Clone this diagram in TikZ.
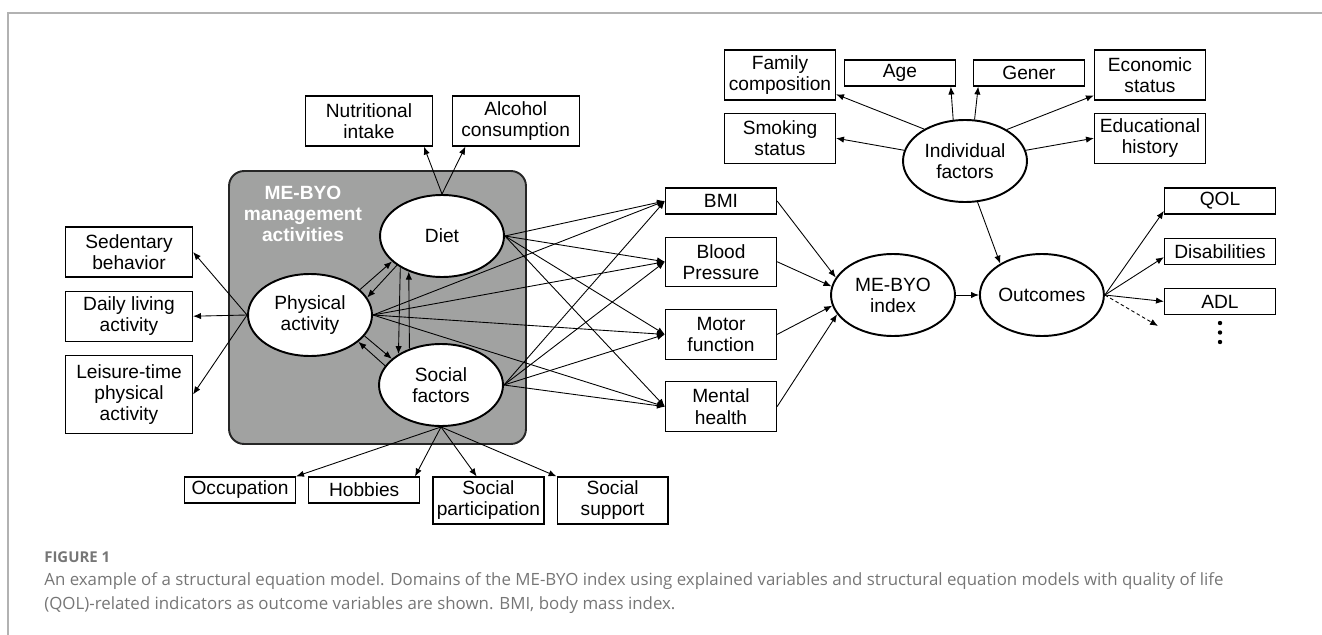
\documentclass[tikz,border=0pt]{standalone}
\usepackage{fontspec}
\setmainfont{Liberation Sans}
\newfontfamily\capfont{Open Sans}
\usepackage{tikz}
\usetikzlibrary{arrows.meta,shapes.geometric,positioning}
\definecolor{groupgray}{RGB}{161,162,161}
\definecolor{framegray}{RGB}{178,178,178}
\definecolor{capgray}{RGB}{118,118,118}
\tikzstyle{var} = [rectangle, draw, line width=0.7pt, minimum width=2.22cm, minimum height=0.52cm, inner xsep=1.5pt, inner ysep=1pt, align=center, font=\fontsize{10.9}{12}\selectfont]
\tikzstyle{widevar} = [var, minimum width=2.54cm]
\tikzstyle{latent} = [ellipse, draw, line width=1.1pt, fill=white, minimum width=2.48cm, minimum height=1.64cm, inner sep=0pt, align=center, font=\fontsize{10.9}{12}\selectfont]
\tikzstyle{group} = [rectangle, rounded corners=0.3cm, draw=black!85, line width=1.1pt, fill=groupgray, minimum width=5.94cm, minimum height=5.46cm]
\tikzstyle{arrow} = [line width=0.5pt, -{Latex[length=4.5pt,width=3.6pt]}]

\begin{document}
\begin{tikzpicture}[x=0.02cm,y=-0.02cm]
\useasboundingbox (0,0) rectangle (1322,635);
\draw[framegray, line width=0.85pt] (8,635) -- (8,13) -- (1322,13);

\node[group] (mgmt) at (377.5,307.5) {};
\node[align=center, text=white, font=\fontsize{10.9}{12}\selectfont\bfseries] (mgmtlabel) at (303,214) {ME-BYO\\management\\activities};
\node[latent] (diet) at (442,236) {Diet};
\node[latent] (phy) at (310,315) {Physical\\activity};
\node[latent] (soc) at (441,385) {Social\\factors};

\node[widevar, minimum height=1cm] (sed) at (129,252) {Sedentary\\behavior};
\node[widevar, minimum height=1cm, below=0.26cm of sed] (daily) {Daily living\\activity};
\node[widevar, minimum height=1.56cm, below=0.26cm of daily] (leis) {Leisure-time\\physical\\activity};

\node[widevar, minimum height=1cm] (nutr) at (369,121) {Nutritional\\intake};
\node[widevar, minimum height=1cm, right=0.37cm of nutr] (alc) {Alcohol\\consumption};

\node[var] (occ) at (240,490) {Occupation};
\node[var, right=0.24cm of occ] (hob) {Hobbies};
\node[var, minimum height=0.94cm, right=0.24cm of hob.north east, anchor=north west] (spart) {Social\\participation};
\node[var, minimum height=0.94cm, right=0.24cm of spart] (ssup) {Social\\support};

\node[var] (bmi) at (721,201) {BMI};
\node[var, minimum height=0.98cm, below=0.44cm of bmi] (bp) {Blood\\Pressure};
\node[var, minimum height=1cm, below=0.44cm of bp] (motor) {Motor\\function};
\node[var, minimum height=1cm, below=0.42cm of motor] (mental) {Mental\\health};

\node[latent] (idx) at (893,295) {ME-BYO\\index};
\node[latent, right=0.46cm of idx] (out) {Outcomes};
\node[latent] (indiv) at (965,161) {Individual\\factors};

\node[var, minimum height=1cm] (fam) at (780,75) {Family\\composition};
\node[var, minimum height=1cm, below=0.24cm of fam] (smok) {Smoking\\status};
\node[var] (age) at (900,73) {Age};
\node[var] (gen) at (1029,73) {Gener};
\node[var, minimum height=1cm] (econ) at (1150,75) {Economic\\status};
\node[var, minimum height=1cm, below=0.24cm of econ] (edu) {Educational\\history};

\node[var] (qol) at (1220,201) {QOL};
\node[var, below=0.46cm of qol] (dis) {Disabilities};
\node[var, below=0.46cm of dis] (adl) {ADL};
\coordinate (etc) at (1158,326);
\coordinate (more) at (1220,332.5);
\fill (more) ++(0,-9.5) circle (2.2) (more) circle (2.2) (more) ++(0,9.5) circle (2.2);

\draw[arrow] (phy.west) -- (sed.east);
\draw[arrow] (phy.west) -- (daily.east);
\draw[arrow] (phy.west) -- (leis.east);
\draw[arrow] (diet.north) -- (nutr.-25);
\draw[arrow] (diet.north) -- (alc.207);
\draw[arrow] (soc.south) -- (occ.north east);
\draw[arrow] (soc.south) -- (hob.15);
\draw[arrow] (soc.south) -- (spart.116);
\draw[arrow] (soc.south) -- (ssup.north west);

\draw[arrow] (phy.27) -- (diet.207);
\draw[arrow] (diet.213) -- (phy.17);
\draw[arrow] (diet.217) -- (soc.144);
\draw[arrow] (soc.131) -- (diet.227);
\draw[arrow] (phy.-21) -- (soc.152);
\draw[arrow] (soc.161) -- (phy.-29);

\draw[arrow] (diet.east) -- (bmi.west);
\draw[arrow] (diet.east) -- (bp.west);
\draw[arrow] (diet.east) -- (motor.west);
\draw[arrow] (diet.east) -- (mental.west);
\draw[arrow] (phy.east) -- (bmi.west);
\draw[arrow] (phy.east) -- (bp.west);
\draw[arrow] (phy.east) -- (motor.west);
\draw[arrow] (phy.east) -- (mental.west);
\draw[arrow] (soc.east) -- (bmi.west);
\draw[arrow] (soc.east) -- (bp.west);
\draw[arrow] (soc.east) -- (motor.west);
\draw[arrow] (soc.east) -- (mental.west);

\draw[arrow] (bmi.east) -- (idx.163);
\draw[arrow] (bp.east) -- (idx.172);
\draw[arrow] (motor.east) -- (idx.190);
\draw[arrow] (mental.east) -- (idx.199);
\draw[arrow] (idx) -- (out);

\draw[arrow] (indiv.142) -- (fam.-19);
\draw[arrow] (indiv.106) -- (age.-15);
\draw[arrow] (indiv.77) -- (gen.195);
\draw[arrow] (indiv.37) -- (econ.200);
\draw[arrow] (indiv.170) -- (smok.east);
\draw[arrow] (indiv.10) -- (edu.west);
\draw[arrow] (indiv.-73) -- (out.143);

\draw[arrow] (out.east) -- (qol.190);
\draw[arrow] (out.east) -- (dis.186);
\draw[arrow] (out.east) -- (adl.west);
\draw[arrow, dash pattern=on 2pt off 1.5pt] (out.east) -- (etc);

\node[anchor=west, inner sep=0pt, text=capgray, font=\capfont\bfseries\fontsize{8.5}{10}\selectfont] (figlabel) at (44,557) {FIGURE 1};
\node[anchor=north west, inner sep=0pt, align=left, text=capgray, font=\capfont\fontsize{9.6}{13.6}\selectfont] (caption) at (44,572) {An example of a structural equation model. Domains of the ME-BYO index using explained variables and structural equation models with quality of life\\(QOL)-related indicators as outcome variables are shown. BMI, body mass index.};
\end{tikzpicture}
\end{document}
